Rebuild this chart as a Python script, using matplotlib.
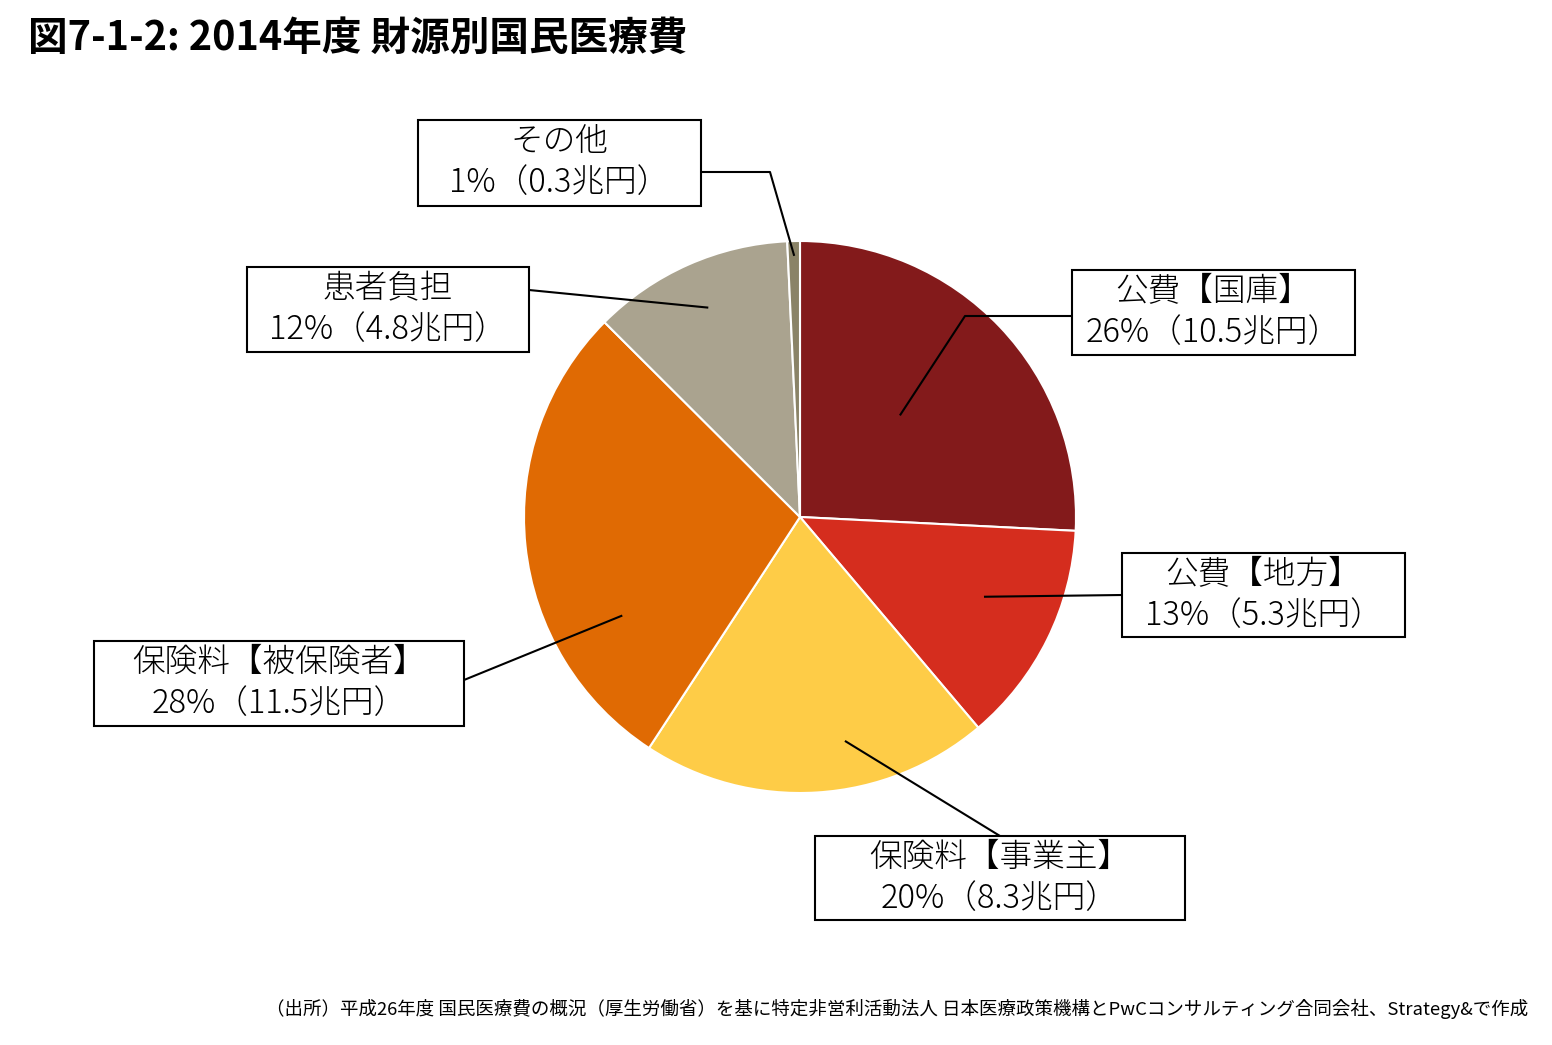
import numpy as np
import matplotlib.pyplot as plt
from matplotlib.patches import Rectangle

plt.rcParams['font.family'] = ['Noto Sans CJK JP', 'DejaVu Sans']

# data (兆円)
names = ["公費【国庫】", "公費【地方】", "保険料【事業主】", "保険料【被保険者】", "患者負担", "その他"]
values = [10.5, 5.3, 8.3, 11.5, 4.8, 0.3]
colors = ["#831A1B", "#D52D1E", "#FECC47", "#E06A03", "#AAA38F", "#8A8367"]

title = "図7-1-2: 2014年度 財源別国民医療費"
source = "（出所）平成26年度 国民医療費の概況（厚生労働省）を基に特定非営利活動法人 日本医療政策機構とPwCコンサルティング合同会社、Strategy&で作成"

W, H = 1552, 1045
fig = plt.figure(figsize=(W / 100, H / 100), dpi=100)
ax = fig.add_axes([0, 0, 1, 1])

cx, cy, R = 800, H - 517, 276
wedges, _ = ax.pie(values, colors=colors, startangle=90, counterclock=False,
                   center=(cx, cy), radius=R, frame=True,
                   wedgeprops=dict(edgecolor="white", linewidth=1.5))
ax.set_xlim(0, W)
ax.set_ylim(0, H)
ax.set_aspect("equal")
ax.axis("off")

# label boxes: (left, top, right, bottom) in pixels from top-left
boxes = [(1072, 270, 1355, 355), (1122, 553, 1405, 637), (815, 836, 1185, 920),
         (94, 641, 464, 726), (247, 267, 529, 352), (418, 120, 701, 206)]
# where the leader leaves the box, optional elbow, and target inside the slice
starts = [(1072, 316), (1122, 595), (1000, 836), (464, 680), (529, 290), (701, 172)]
elbows = [(965, 316), None, None, None, None, (770, 172)]
ang_off = [2, 3, 8, 23, 0, 0]
rad_frac = [0.52, 0.73, 0.83, 0.74, 0.83, 0.95]

total = sum(values)
for i, w in enumerate(wedges):
    mid = np.deg2rad((w.theta1 + w.theta2) / 2 + ang_off[i])
    tx = cx + rad_frac[i] * R * np.cos(mid)
    ty = cy + rad_frac[i] * R * np.sin(mid)

    pts = [starts[i]]
    if elbows[i] is not None:
        pts.append(elbows[i])
    xs = [p[0] for p in pts] + [tx]
    ys = [H - p[1] for p in pts] + [ty]
    ax.plot(xs, ys, color="black", lw=1.5, zorder=3)

    x0, y0, x1, y1 = boxes[i]
    ax.add_patch(Rectangle((x0, H - y1), x1 - x0, y1 - y0, facecolor="white",
                           edgecolor="black", lw=1.5, zorder=4))
    xc = (x0 + x1) / 2
    pct = round(values[i] / total * 100)
    ax.text(xc, H - (y0 + 22), names[i], ha="center", va="center",
            fontsize=23.5, fontweight="light", zorder=5)
    ax.text(xc, H - (y0 + 63), f"{pct}%（{values[i]}兆円）", ha="center",
            va="center", fontsize=23.5, fontweight="light", zorder=5)

ax.text(28, H - 38, title, ha="left", va="center", fontsize=28.5,
        fontweight="bold", fontstyle="italic")
ax.text(1528, H - 1009, source, ha="right", va="center", fontsize=13.3)

fig.savefig("out.png", dpi=100)
